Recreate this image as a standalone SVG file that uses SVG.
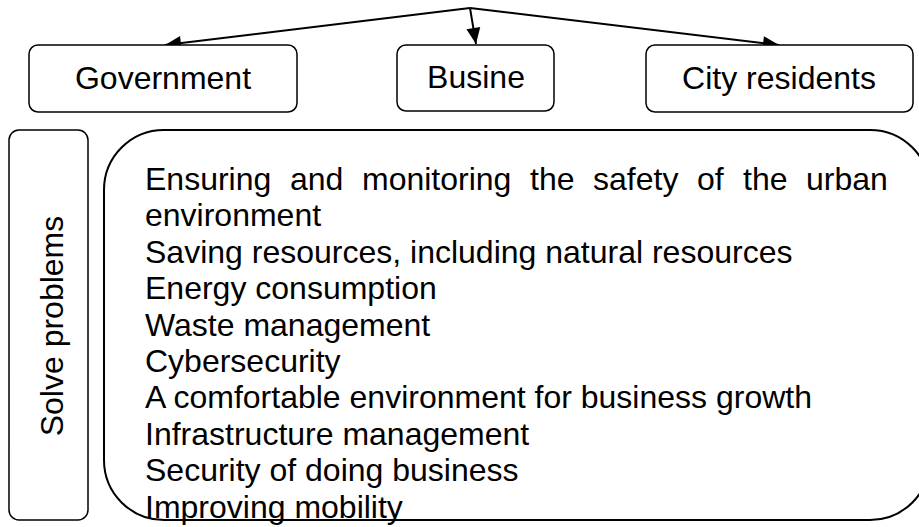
<svg xmlns="http://www.w3.org/2000/svg" width="919" height="527" viewBox="0 0 919 527">
<style>
.box{fill:#fff;stroke:#000;stroke-width:1.5}
.big{fill:none;stroke:#000;stroke-width:2}
.t{font-family:"Liberation Sans",Arial,sans-serif;font-size:32px;fill:#000}
.c{text-anchor:middle}
.conn{stroke:#000;stroke-width:2;fill:none}
</style>
<defs>
<marker id="ah" refX="16" refY="7" markerWidth="17" markerHeight="14" markerUnits="userSpaceOnUse" orient="auto" overflow="visible">
<path d="M0,0 L16,7 L0,14 Z" fill="#000"/>
</marker>
</defs>
<rect width="919" height="527" fill="#fff"/>
<g id="connectors">
<line class="conn" x1="470" y1="8" x2="165" y2="45" marker-end="url(#ah)"/>
<line class="conn" x1="470" y1="8" x2="476" y2="44" marker-end="url(#ah)"/>
<line class="conn" x1="470" y1="8" x2="779" y2="45" marker-end="url(#ah)"/>
</g>
<g id="government">
<rect class="box" x="29" y="45" width="268" height="67" rx="9"/>
<text class="t c" x="163" y="89">Government</text>
</g>
<g id="busine">
<rect class="box" x="397" y="45" width="157" height="66" rx="9"/>
<text class="t c" x="476" y="88">Busine</text>
</g>
<g id="city-residents">
<rect class="box" x="646" y="45" width="267" height="67" rx="9"/>
<text class="t c" x="779" y="89">City residents</text>
</g>
<g id="solve-problems">
<rect class="box" x="9" y="130" width="79" height="390" rx="10"/>
<text class="t c" transform="translate(63,326) rotate(-90)" x="0" y="0">Solve problems</text>
</g>
<g id="problems">
<rect class="big" x="104" y="130" width="826" height="390" rx="60"/>
<text class="t" y="190"><tspan x="145">Ensuring</tspan><tspan x="290">and</tspan><tspan x="362">monitoring</tspan><tspan x="530">the</tspan><tspan x="593">safety</tspan><tspan x="697">of</tspan><tspan x="743">the</tspan><tspan x="806">urban</tspan></text>
<text class="t" x="145" y="226.4">environment</text>
<text class="t" x="145" y="262.8">Saving resources, including natural resources</text>
<text class="t" x="145" y="299.2">Energy consumption</text>
<text class="t" x="145" y="335.6">Waste management</text>
<text class="t" x="145" y="372">Cybersecurity</text>
<text class="t" x="145" y="408.4">A comfortable environment for business growth</text>
<text class="t" x="145" y="444.8">Infrastructure management</text>
<text class="t" x="145" y="481.2">Security of doing business</text>
<text class="t" x="145" y="517.6">Improving mobility</text>
</g>
</svg>
